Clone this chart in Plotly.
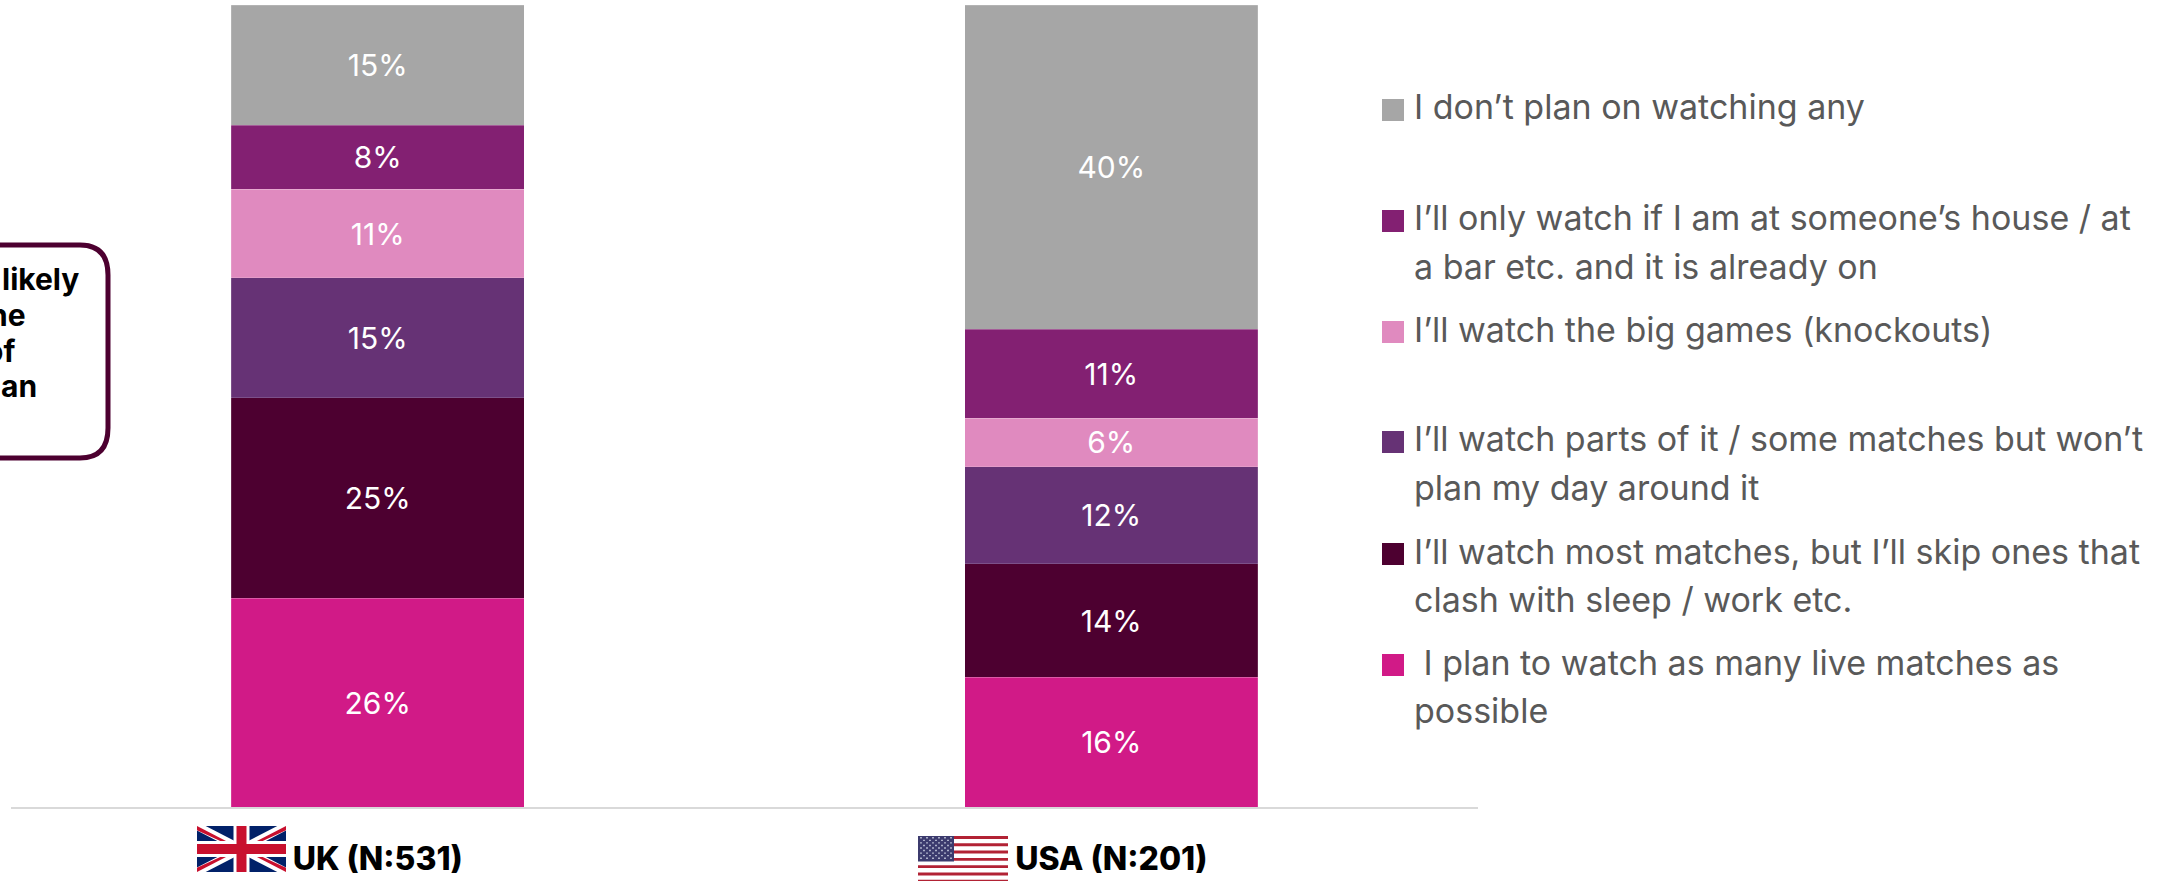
import plotly.graph_objects as go

W, H = 2172, 881
L, R, T, B = 11, 694, 5, 74

countries = ["UK (N:531)", "USA (N:201)"]

# Stacked from the axis upward
answers = [
    "I plan to watch as many live matches as possible",
    "I'll watch most matches, but I'll skip ones that clash with sleep / work etc.",
    "I'll watch parts of it / some matches but won't plan my day around it",
    "I'll watch the big games (knockouts)",
    "I'll only watch if I am at someone's house / at a bar etc. and it is already on",
    "I don't plan on watching any",
]
uk_values = [26, 25, 15, 11, 8, 15]
usa_values = [16, 14, 12, 6, 11, 40]
colors = ["#D11A87", "#4D0030", "#663275", "#E08ABF", "#832072", "#A6A6A6"]

# Key entries, top to bottom, with wrapped lines
key_lines = [
    ["I don’t plan on watching any"],
    ["I’ll only watch if I am at someone’s house / at", "a bar etc. and it is already on"],
    ["I’ll watch the big games (knockouts)"],
    ["I’ll watch parts of it / some matches but won’t", "plan my day around it"],
    ["I’ll watch most matches, but I’ll skip ones that", "clash with sleep / work etc."],
    ["\u00a0I plan to watch as many live matches as", "possible"],
]
key_colors = colors[::-1]
key_rows = [110, 221, 332, 442, 554, 665]

callout_lines = ["likely", "the", "of", "an"]
callout_right = [81, 28, 17, 39]
callout_rows = [279, 315, 351, 386]

SANS = "Inter, Lato, sans-serif"
LINE_PITCH = 48


def px(x):
    return (x - L) / (W - L - R)


def py(y):
    return (H - B - y) / (H - T - B)


def rect(x0, y0, x1, y1, fill):
    return dict(type="rect", xref="paper", yref="paper", x0=px(x0), x1=px(x1),
                y0=py(y1), y1=py(y0), fillcolor=fill, line_width=0, layer="above")


def poly(points, fill):
    path = "M " + " L ".join(f"{px(x):.5f},{py(y):.5f}" for x, y in points) + " Z"
    return dict(type="path", xref="paper", yref="paper", path=path,
                fillcolor=fill, line_width=0, layer="above")


def uk_flag(x0, y0, x1, y1):
    navy, red, white = "#012169", "#C8102E", "#FFFFFF"
    w, h = x1 - x0, y1 - y0
    d = 0.1 * h
    out = [rect(x0, y0, x1, y1, navy)]
    for a, b, c, e in [(x0, y0, x1, y1), (x0, y1, x1, y0)]:
        out.append(poly([(a, b - d if e > b else b + d), (a, b + d if e > b else b - d),
                         (c, e + d if e > b else e - d), (c, e - d if e > b else e + d)], white))
    t = 0.045 * h
    out.append(poly([(x0, y0), (x0, y0 + 2 * t), (x0 + w / 2 - 4, y0 + h / 2), (x0 + w / 2, y0 + h / 2)], red))
    out.append(poly([(x1, y1), (x1, y1 - 2 * t), (x0 + w / 2 + 4, y0 + h / 2), (x0 + w / 2, y0 + h / 2)], red))
    out.append(poly([(x1, y0), (x1, y0 + 2 * t), (x0 + w / 2 + 4, y0 + h / 2), (x0 + w / 2, y0 + h / 2)], red))
    out.append(poly([(x0, y1), (x0, y1 - 2 * t), (x0 + w / 2 - 4, y0 + h / 2), (x0 + w / 2, y0 + h / 2)], red))
    out.append(rect(x0 + w / 2 - 8, y0, x0 + w / 2 + 8, y1, white))
    out.append(rect(x0, y0 + h / 2 - 8, x1, y0 + h / 2 + 8, white))
    out.append(rect(x0 + w / 2 - 5, y0, x0 + w / 2 + 5, y1, red))
    out.append(rect(x0, y0 + h / 2 - 5, x1, y0 + h / 2 + 5, red))
    return out


def us_flag(x0, y0, x1, stripe):
    out = [rect(x0, y0, x1, y0 + 13 * stripe, "#FFFFFF")]
    for i in range(0, 13, 2):
        out.append(rect(x0, y0 + i * stripe, x1, y0 + (i + 0.8) * stripe, "#B22234"))
    cx1 = x0 + 0.4 * (x1 - x0)
    cy1 = y0 + 7 * stripe
    out.append(rect(x0, y0, cx1, cy1, "#3C3B6E"))
    for r in range(9):
        n = 6 if r % 2 == 0 else 5
        for c in range(n):
            sx = x0 + (c + (0.5 if r % 2 == 0 else 1)) * (cx1 - x0) / 6
            sy = y0 + (r + 0.7) * (cy1 - y0) / 10
            out.append(rect(sx - 0.7, sy - 0.7, sx + 0.7, sy + 0.7, "#DDE3F0"))
    return out


fig = go.Figure()
for i, name in enumerate(answers):
    vals = [uk_values[i], usa_values[i]]
    fig.add_bar(
        x=countries, y=vals, name=name,
        marker=dict(color=colors[i], line=dict(color="rgba(255,255,255,0.2)", width=0.75)),
        text=[f"{v}%" for v in vals],
        textposition="inside", insidetextanchor="middle", textangle=0,
        insidetextfont=dict(family=SANS, size=30, color="#FFFFFF"),
        hoverinfo="x+y+name",
    )

shapes = []
annotations = []

# Rounded call-out box running off the left edge
x_a, x_b, x_c = -30, 80, 108
y_top, y_q, y_r, y_bot = 245, 275, 428, 458
shapes.append(dict(
    type="path", xref="paper", yref="paper",
    path=(f"M {px(x_a):.5f},{py(y_top):.5f} L {px(x_b):.5f},{py(y_top):.5f} "
          f"Q {px(x_c):.5f},{py(y_top):.5f} {px(x_c):.5f},{py(y_q):.5f} "
          f"L {px(x_c):.5f},{py(y_r):.5f} "
          f"Q {px(x_c):.5f},{py(y_bot):.5f} {px(x_b):.5f},{py(y_bot):.5f} "
          f"L {px(x_a):.5f},{py(y_bot):.5f}"),
    line=dict(color="#4D0030", width=5), layer="above"))
for text, right, row in zip(callout_lines, callout_right, callout_rows):
    annotations.append(dict(
        xref="paper", yref="paper", x=px(right), y=py(row), text=f"<b>{text}</b>",
        xanchor="right", yanchor="middle", showarrow=False, align="right",
        font=dict(family=SANS, size=30, color="#000000", weight=800)))

# Key squares and their wrapped text
for lines, color, row in zip(key_lines, key_colors, key_rows):
    shapes.append(rect(1382, row - 11, 1404, row + 11, color))
    for n, line in enumerate(lines):
        annotations.append(dict(
            xref="paper", yref="paper", x=px(1412), y=py(row - 3 + n * LINE_PITCH), text=line,
            xanchor="left", yanchor="middle", showarrow=False,
            font=dict(family=SANS, size=34, color="#595959")))

shapes += uk_flag(197, 826, 286, 872)
shapes += us_flag(918, 836, 1008, 3.65)

fig.update_layout(
    width=W, height=H, autosize=False,
    margin=dict(l=L, r=R, t=T, b=B, pad=0),
    barmode="stack", barnorm="percent", bargap=0.6,
    paper_bgcolor="#FFFFFF", plot_bgcolor="#FFFFFF",
    showlegend=False, shapes=shapes, annotations=annotations,
    xaxis=dict(type="category", range=[-0.5, 1.5], showgrid=False, zeroline=False,
               automargin=False,
               ticks="", showline=True, linecolor="#D9D9D9", linewidth=2,
               ticklabelstandoff=23,
               tickfont=dict(family=SANS, size=32, color="#000000", weight=800)),
    yaxis=dict(range=[0, 100], visible=False, automargin=False),
)

fig.write_html("out.html")
